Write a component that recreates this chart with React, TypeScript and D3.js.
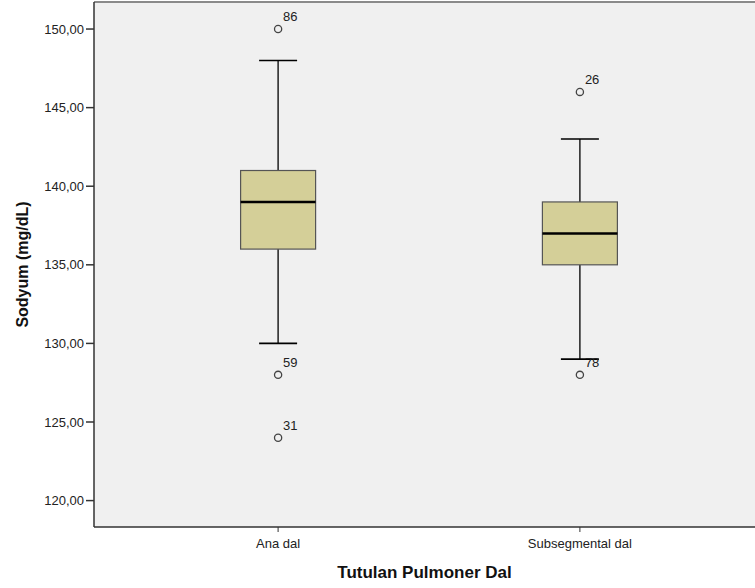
import React from "react";
import * as d3 from "d3";

// Groups and their box-plot summaries
const categories = ["Ana dal", "Subsegmental dal"];
const q1 = [136, 135];
const medians = [139, 137];
const q3 = [141, 139];
const whiskerLow = [130, 129];
const whiskerHigh = [148, 143];

// Outliers: group index, value, case label
const outlierGroup = [0, 0, 0, 1, 1];
const outlierValue = [150, 128, 124, 146, 128];
const outlierLabel = ["86", "59", "31", "26", "78"];

const yTicks = [120, 125, 130, 135, 140, 145, 150];

const W = 755;
const H = 588;
const left = 94;
const top = 2;
const bottom = 527;
const right = 764;

const FONT = "'Liberation Sans', Arial, sans-serif";

export default function App() {
  const y = d3.scaleLinear().domain([118.32, 151.72]).range([bottom, top]);
  const x = d3.scalePoint<string>().domain(categories).range([left, right]).padding(0.61);
  const boxW = 75;
  const capW = 38;
  const fmt = (v: number) => v.toFixed(2).replace(".", ",");

  return (
    <svg
      width={W}
      height={H}
      style={{ position: "absolute", left: 0, top: 0, background: "#fff" }}
      fontFamily={FONT}
    >
      <rect x={left} y={top} width={W - left} height={bottom - top} fill="#F0F0F0" />
      <line x1={left} x2={W} y1={top} y2={top} stroke="#8a8a8a" strokeWidth={2} />

      {categories.map((c, i) => {
        const cx = x(c)!;
        return (
          <g key={c}>
            <line x1={cx} x2={cx} y1={y(whiskerHigh[i])} y2={y(q3[i])} stroke="#000" strokeWidth={1.3} />
            <line x1={cx} x2={cx} y1={y(q1[i])} y2={y(whiskerLow[i])} stroke="#000" strokeWidth={1.3} />
            <line x1={cx - capW / 2} x2={cx + capW / 2} y1={y(whiskerHigh[i])} y2={y(whiskerHigh[i])} stroke="#000" strokeWidth={1.6} />
            <line x1={cx - capW / 2} x2={cx + capW / 2} y1={y(whiskerLow[i])} y2={y(whiskerLow[i])} stroke="#000" strokeWidth={1.6} />
            <rect
              x={cx - boxW / 2}
              y={y(q3[i])}
              width={boxW}
              height={y(q1[i]) - y(q3[i])}
              fill="#D4CF98"
              stroke="#555"
              strokeWidth={1.2}
            />
            <line x1={cx - boxW / 2} x2={cx + boxW / 2} y1={y(medians[i])} y2={y(medians[i])} stroke="#000" strokeWidth={2.5} />
          </g>
        );
      })}

      {outlierValue.map((v, k) => {
        const cx = x(categories[outlierGroup[k]])!;
        const cy = y(v);
        return (
          <g key={k}>
            <circle cx={cx} cy={cy} r={3.6} fill="none" stroke="#444" strokeWidth={1.3} />
            <text x={cx + 5} y={cy - 8} fontSize={13} fill="#222">
              {outlierLabel[k]}
            </text>
          </g>
        );
      })}

      {/* y axis */}
      <line x1={left} x2={left} y1={top} y2={bottom} stroke="#333" strokeWidth={1.5} />
      {yTicks.map((t) => (
        <g key={t}>
          <line x1={left - 8} x2={left} y1={y(t)} y2={y(t)} stroke="#333" strokeWidth={1.5} />
          <text x={84} y={y(t)} dy="0.35em" textAnchor="end" fontSize={13} fill="#222">
            {fmt(t)}
          </text>
        </g>
      ))}

      {/* x axis */}
      <line x1={left} x2={W} y1={bottom} y2={bottom} stroke="#333" strokeWidth={1.5} />
      {categories.map((c) => (
        <g key={c}>
          <line x1={x(c)!} x2={x(c)!} y1={bottom} y2={bottom + 5} stroke="#333" strokeWidth={1} />
          <text x={x(c)!} y={548} textAnchor="middle" fontSize={13} fill="#222">
            {c}
          </text>
        </g>
      ))}

      <text x={(left + W) / 2} y={578} textAnchor="middle" fontSize={17} fontWeight="bold" fill="#111">
        Tutulan Pulmoner Dal
      </text>
      <text
        transform={`translate(28, ${(top + bottom) / 2}) rotate(-90)`}
        textAnchor="middle"
        fontSize={16}
        fontWeight="bold"
        fill="#111"
      >
        Sodyum (mg/dL)
      </text>
    </svg>
  );
}
